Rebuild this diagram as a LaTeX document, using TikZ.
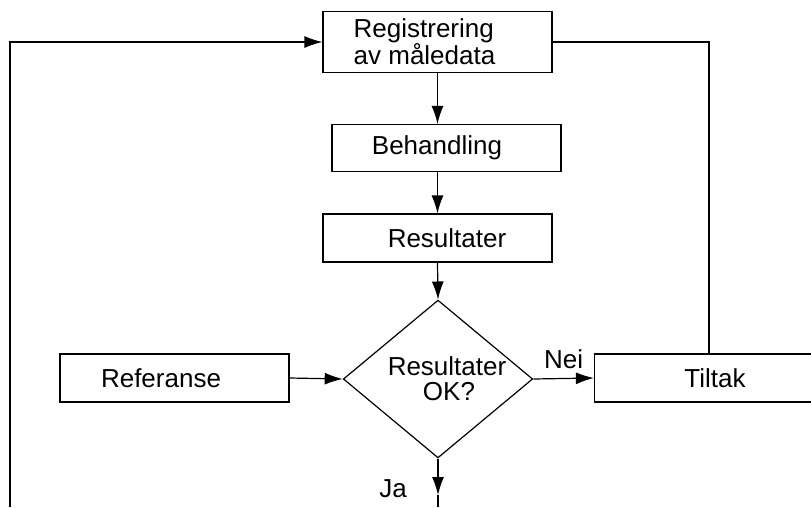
\documentclass[tikz,border=0pt]{standalone}
\usepackage{fontspec}
\setmainfont{Liberation Sans}
\usetikzlibrary{arrows.meta,shapes.geometric}

\tikzset{
  flowbox/.style={draw,line width=1.2pt,minimum width=229pt,inner sep=0pt,align=left},
  decision/.style={draw,diamond,line width=1.2pt,aspect=1.2,minimum width=184pt,minimum height=153pt,inner sep=0pt,align=center},
}

\begin{document}
\begin{tikzpicture}[x=1pt,y=-1pt,font=\fontsize{26}{25}\selectfont]
			\useasboundingbox (0,0) rectangle (811,507);

			\node[flowbox,minimum height=61pt] (reg) at (437.5,42) {\hspace*{-26pt}Registrering\\\hspace*{-26pt}av måledata};
			\node[flowbox,minimum height=47pt] (beh) at (446.5,148) {\hspace*{-19pt}Behandling};
			\node[flowbox,minimum height=48pt] (res) at (437.5,238) {\hspace*{19pt}Resultater};
			\node[decision] (dia) at (438,379) {\hspace*{18pt}Resultater\\\hspace*{22pt}OK?};
			\node[flowbox,minimum height=48pt] (ref) at (174.5,378) {\hspace*{-27pt}Referanse};
			\node[flowbox,minimum height=48pt] (til) at (709,378) {\hspace*{12pt}Tiltak};

			\coordinate (ja) at (438,495);
			\coordinate (jaend) at (438,507);
			\coordinate (back) at (10,507);

			\begin{scope}[-{Latex[length=18pt,width=12pt]},line width=1.2pt]
			    \draw (reg.south) -- (reg.south |- beh.north);
			    \draw (res.north |- beh.south) -- (res.north);
			    \draw (res.south) -- (dia.north);
			    \draw (ref.east) -- (dia.west);
			    \draw (dia.east) -- node[above=6pt]{Nei} (til.west);
			    \draw (dia.south) -- (ja);
			    \draw (back) |- (reg.west);
			\end{scope}

			\draw[line width=1.2pt] (ja) -- (jaend);
			\draw[line width=1.2pt] (til.north) |- (reg.east);
			\node (jalabel) at (393,489) {Ja};
		    \end{tikzpicture}
\end{document}
